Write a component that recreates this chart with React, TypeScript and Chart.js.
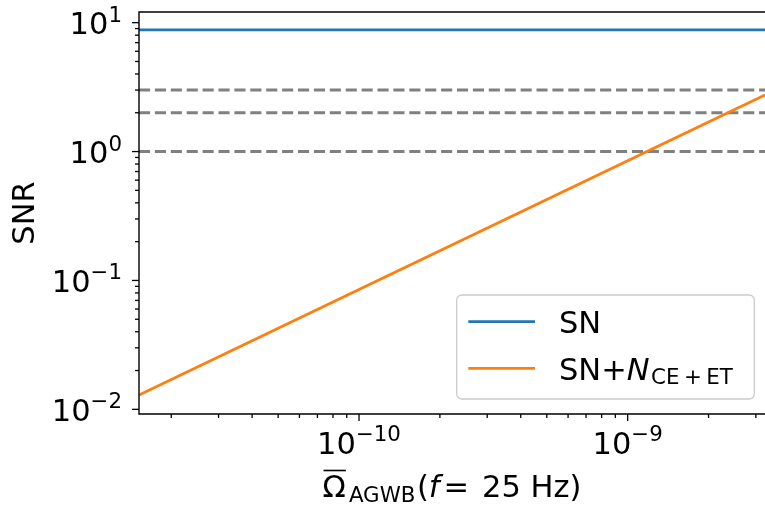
import React, { useEffect, useRef } from "react";
import { Chart, registerables } from "chart.js";

Chart.register(...registerables);

// ---- data ----
const X_RANGE = [1.517e-11, 3.245e-9];
const Y_RANGE = [0.0092, 12.1];
const SN_LEVEL = 8.78;
const OMEGA = [1.517e-11, 1e-10, 1e-9, 3.245e-9];
const SNR_COMBINED = [0.0129, 0.085, 0.85, 2.75];
const THRESHOLDS = [1, 2, 3];
const X_MAJOR_EXP = [-10, -9];
const Y_MAJOR_EXP = [-2, -1, 0, 1];
const MINOR_MULT = [2, 3, 4, 5, 6, 7, 8, 9];
const SERIES_LABELS = ["SN", "SN+N_CE+ET"];
const Y_TITLE = "SNR";

const FONT = '"DejaVu Sans", sans-serif';
const MAIN = 30.5;
const SMALL = 21.35;

type Run = { text: string; size: number; italic?: boolean; dy?: number; pre?: number };

function fontOf(r: Run) {
  return `${r.italic ? "italic " : ""}${r.size}px ${FONT}`;
}
function runsWidth(ctx: CanvasRenderingContext2D, runs: Run[]) {
  let w = 0;
  for (const r of runs) {
    ctx.font = fontOf(r);
    w += (r.pre || 0) + ctx.measureText(r.text).width;
  }
  return w;
}
function drawRuns(ctx: CanvasRenderingContext2D, runs: Run[], x: number, y: number) {
  let cx = x;
  const starts: number[] = [];
  for (const r of runs) {
    ctx.font = fontOf(r);
    cx += r.pre || 0;
    starts.push(cx);
    ctx.fillText(r.text, cx, y + (r.dy || 0));
    cx += ctx.measureText(r.text).width;
  }
  return starts;
}
function powerRuns(exp: number): Run[] {
  const e = exp < 0 ? "\u2212" + Math.abs(exp) : String(exp);
  return [
    { text: "10", size: MAIN },
    { text: e, size: SMALL, dy: -12.5 },
  ];
}

const axesPlugin = {
  id: "mplAxes",
  afterDraw(chart: any) {
    const ctx: CanvasRenderingContext2D = chart.ctx;
    const { left, right, top, bottom } = chart.chartArea;
    const xs = chart.scales.x;
    const ys = chart.scales.y;
    ctx.save();
    ctx.strokeStyle = "#000";
    ctx.fillStyle = "#000";
    ctx.lineWidth = 1.4;
    // spines
    ctx.beginPath();
    ctx.moveTo(right + 2, top);
    ctx.lineTo(left, top);
    ctx.lineTo(left, bottom);
    ctx.lineTo(right + 2, bottom);
    ctx.stroke();

    // ticks
    ctx.lineWidth = 1.3;
    const yMin = Y_RANGE[0], yMax = Y_RANGE[1];
    for (let e = -3; e <= 1; e++) {
      const major = Math.pow(10, e);
      if (major >= yMin && major <= yMax) {
        const p = ys.getPixelForValue(major);
        ctx.beginPath(); ctx.moveTo(left - 7, p); ctx.lineTo(left, p); ctx.stroke();
      }
      for (const m of MINOR_MULT) {
        const v = m * major;
        if (v >= yMin && v <= yMax) {
          const p = ys.getPixelForValue(v);
          ctx.beginPath(); ctx.moveTo(left - 4, p); ctx.lineTo(left, p); ctx.stroke();
        }
      }
    }
    const xMin = X_RANGE[0], xMax = X_RANGE[1];
    for (let e = -12; e <= -8; e++) {
      const major = Math.pow(10, e);
      if (major >= xMin && major <= xMax) {
        const p = xs.getPixelForValue(major);
        ctx.beginPath(); ctx.moveTo(p, bottom); ctx.lineTo(p, bottom + 7); ctx.stroke();
      }
      for (const m of MINOR_MULT) {
        const v = m * major;
        if (v >= xMin && v <= xMax) {
          const p = xs.getPixelForValue(v);
          ctx.beginPath(); ctx.moveTo(p, bottom); ctx.lineTo(p, bottom + 4); ctx.stroke();
        }
      }
    }

    // tick labels
    ctx.textBaseline = "alphabetic";
    ctx.textAlign = "left";
    for (const e of Y_MAJOR_EXP) {
      const p = ys.getPixelForValue(Math.pow(10, e));
      const runs = powerRuns(e);
      const w = runsWidth(ctx, runs);
      drawRuns(ctx, runs, left - 17 - w, p + 11.5);
    }
    for (const e of X_MAJOR_EXP) {
      const p = xs.getPixelForValue(Math.pow(10, e));
      const runs = powerRuns(e);
      const w = runsWidth(ctx, runs);
      drawRuns(ctx, runs, p - w / 2, bottom + 39.5);
    }

    // x title: Omega-bar_AGWB(f = 25 Hz)
    const xt: Run[] = [
      { text: "\u03A9", size: MAIN },
      { text: "AGWB", size: SMALL, dy: 5, pre: 3 },
      { text: "(", size: MAIN, pre: 1.5 },
      { text: "f", size: MAIN, italic: true },
      { text: "=", size: MAIN, pre: 4 },
      { text: "25 Hz)", size: MAIN, pre: 13 },
    ];
    const xw = runsWidth(ctx, xt);
    const cx = (left + right) / 2;
    const starts = drawRuns(ctx, xt, cx - xw / 2, bottom + 83);
    ctx.font = fontOf(xt[0]);
    const ow = ctx.measureText("\u03A9").width;
    ctx.lineWidth = 1.6;
    ctx.beginPath();
    ctx.moveTo(starts[0] + 1, bottom + 56.5);
    ctx.lineTo(starts[0] + ow, bottom + 56.5);
    ctx.stroke();

    // y title
    ctx.save();
    ctx.translate(33.5, (top + bottom) / 2);
    ctx.rotate(-Math.PI / 2);
    ctx.textAlign = "center";
    ctx.font = `${MAIN}px ${FONT}`;
    ctx.fillText(Y_TITLE, 0, 0);
    ctx.restore();

    // legend
    const lx = 456.7, ly = 295, lw = 297.6, lh = 104, r = 5;
    ctx.beginPath();
    ctx.moveTo(lx + r, ly);
    ctx.arcTo(lx + lw, ly, lx + lw, ly + lh, r);
    ctx.arcTo(lx + lw, ly + lh, lx, ly + lh, r);
    ctx.arcTo(lx, ly + lh, lx, ly, r);
    ctx.arcTo(lx, ly, lx + lw, ly, r);
    ctx.closePath();
    ctx.fillStyle = "rgba(255,255,255,0.8)";
    ctx.fill();
    ctx.strokeStyle = "#cccccc";
    ctx.lineWidth = 1.3;
    ctx.stroke();

    const ds = chart.data.datasets;
    const rowsY = [321.7, 368.3];
    for (let i = 0; i < 2; i++) {
      ctx.strokeStyle = ds[i].borderColor;
      ctx.lineWidth = 2.8;
      ctx.beginPath();
      ctx.moveTo(468.3, rowsY[i]);
      ctx.lineTo(535, rowsY[i]);
      ctx.stroke();
    }
    ctx.fillStyle = "#000";
    const lab0 = String(ds[0].label);
    drawRuns(ctx, [{ text: lab0, size: MAIN }], 559, 332.7);
    const [head, rest] = String(ds[1].label).split("N_"); // "SN+", "CE+ET"
    const sub = rest.split("+");
    drawRuns(ctx, [
      { text: head, size: MAIN },
      { text: "N", size: MAIN, italic: true },
      { text: sub[0], size: SMALL, dy: 4, pre: 1.5 },
      { text: "+", size: SMALL, dy: 4, pre: 4.5 },
      { text: sub[1], size: SMALL, dy: 4, pre: 4.5 },
    ], 559, 380);
    ctx.restore();
  },
};

export default function App() {
  const ref = useRef<HTMLCanvasElement | null>(null);
  useEffect(() => {
    if (!ref.current) return;
    const line = (extra: any) => ({
      pointRadius: 0,
      pointHoverRadius: 0,
      fill: false,
      tension: 0,
      ...extra,
    });
    const chart = new Chart(ref.current, {
      type: "line",
      data: {
        datasets: [
          line({
            label: SERIES_LABELS[0],
            data: X_RANGE.map((x) => ({ x, y: SN_LEVEL })),
            borderColor: "#1f77b4",
            borderWidth: 2.8,
          }),
          line({
            label: SERIES_LABELS[1],
            data: OMEGA.map((x, i) => ({ x, y: SNR_COMBINED[i] })),
            borderColor: "#ff7f0e",
            borderWidth: 2.8,
          }),
          ...THRESHOLDS.map((t) =>
            line({
              label: `SNR = ${t}`,
              data: X_RANGE.map((x) => ({ x, y: t })),
              borderColor: "#808080",
              borderDash: [11.1, 4.8],
              borderWidth: 2.9,
            })
          ),
        ],
      },
      options: {
        responsive: false,
        devicePixelRatio: 1,
        animation: false,
        layout: { padding: { left: 139, top: 12, right: 0, bottom: 93 } },
        plugins: { legend: { display: false }, tooltip: { enabled: false } },
        events: [],
        scales: {
          x: { type: "logarithmic", min: X_RANGE[0], max: X_RANGE[1], display: false },
          y: { type: "logarithmic", min: Y_RANGE[0], max: Y_RANGE[1], display: false },
        },
      },
      plugins: [axesPlugin],
    });
    return () => chart.destroy();
  }, []);
  return (
    <div style={{ position: "absolute", left: 0, top: 0, width: 765, height: 507, background: "#fff" }}>
      <canvas ref={ref} width={765} height={507} style={{ width: 765, height: 507, display: "block" }} />
    </div>
  );
}
